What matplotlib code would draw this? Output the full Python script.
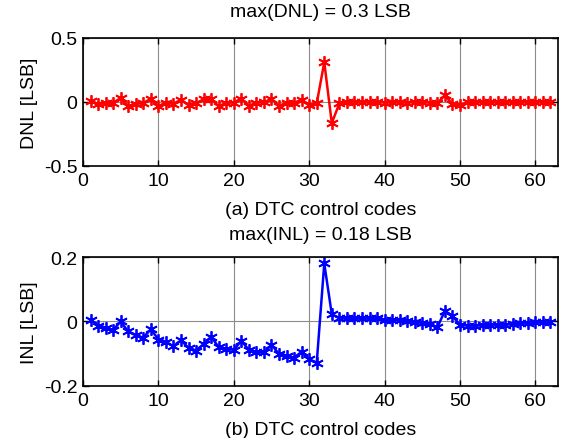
import matplotlib
matplotlib.use('Agg')
import matplotlib.pyplot as plt
import numpy as np

plt.rcParams['font.family'] = ['Liberation Sans', 'DejaVu Sans']

codes = list(range(1, 63))

dnl = [0.005, -0.016, -0.01, -0.005, 0.03, -0.035, -0.012, -0.007, 0.025, -0.032,
       -0.007, -0.013, 0.018, -0.025, -0.008, 0.02, 0.023, -0.033, -0.007, -0.004,
       0.027, -0.03, -0.006, -0.003, 0.024, -0.03, -0.006, -0.006, 0.018, -0.024,
       -0.011, 0.31, -0.165, -0.011, 0.0, 0.0, 0.0, 0.0, 0.0, -0.004,
       -0.001, 0.0, -0.005, -0.001, -0.003, -0.005, -0.009, 0.052, -0.016, -0.027,
       -0.003, 0.0, 0.001, 0.0, 0.002, 0.0, 0.002, 0.002, 0.001, 0.002,
       0.001, 0.001]

inl = [0.006, -0.013, -0.02, -0.026, 0.0, -0.031, -0.043, -0.05, -0.024, -0.056,
       -0.063, -0.077, -0.058, -0.082, -0.09, -0.07, -0.047, -0.08, -0.085, -0.088,
       -0.06, -0.088, -0.094, -0.096, -0.072, -0.101, -0.106, -0.112, -0.094, -0.117,
       -0.128, 0.18, 0.022, 0.011, 0.01, 0.01, 0.01, 0.01, 0.01, 0.006,
       0.005, 0.005, 0.0, -0.001, -0.004, -0.009, -0.018, 0.033, 0.017, -0.01,
       -0.013, -0.013, -0.012, -0.012, -0.01, -0.01, -0.008, -0.006, -0.005, -0.003,
       -0.002, -0.001]

fig = plt.figure(figsize=(5.67, 4.39), dpi=100)
ax1 = fig.add_axes([0.1464, 0.6196, 0.8377, 0.2916])
ax2 = fig.add_axes([0.1464, 0.1185, 0.8377, 0.2938])

fs = 14
panels = [
    (ax1, dnl, '#ff0000', 'DNL [LSB]', '(a) DTC control codes', 'max(DNL) = 0.3 LSB',
     (-0.5, 0.5), [-0.5, 0, 0.5], ['-0.5', '0', '0.5'], 16),
    (ax2, inl, '#0000ff', 'INL [LSB]', '(b) DTC control codes', 'max(INL) = 0.18 LSB',
     (-0.2, 0.2), [-0.2, 0, 0.2], ['-0.2', '0', '0.2'], 13),
]

for ax, vals, col, ylab, xlab, title, ylim, yt, ytl, tpad in panels:
    ax.plot(codes, vals, color=col, lw=1.8, marker=(6, 2, 0), ms=9, mew=1.3)
    ax.set_xlim(0, 63)
    ax.set_ylim(*ylim)
    ax.set_xticks(range(0, 61, 10))
    ax.set_yticks(yt)
    ax.set_yticklabels(ytl)
    ax.grid(True, color='#8c8c8c', lw=0.8)
    ax.set_axisbelow(True)
    ax.tick_params(direction='in', top=True, right=True, labelsize=fs, length=4, width=1, pad=4)
    for s in ax.spines.values():
        s.set_linewidth(1.2)
    ax.set_ylabel(ylab, fontsize=fs, labelpad=4)
    ax.set_xlabel(xlab, fontsize=fs, labelpad=9)
    ax.set_title(title, fontsize=fs, pad=tpad)

fig.savefig('out.png', dpi=100)
